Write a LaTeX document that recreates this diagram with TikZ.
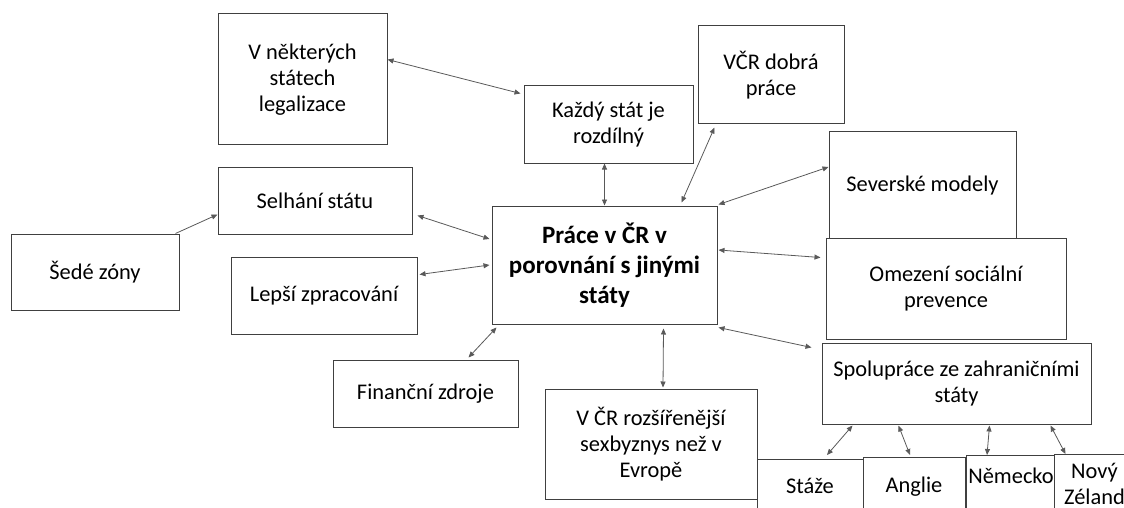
\documentclass[tikz,border=0pt]{standalone}
\usepackage{fontspec}
\setmainfont{Carlito}
\usetikzlibrary{arrows.meta}

\begin{document}
\begin{tikzpicture}[x=1pt, y=-1pt]

\tikzstyle{every node} = [rectangle, draw=black!75, line width=1pt, fill=white, align=center, inner sep=2pt, font=\fontsize{22.4}{26}\selectfont]
\tikzstyle{lowbox} = [anchor=north, inner ysep=0pt, text depth=60pt]
\tikzstyle{link} = [{Triangle[length=6pt,width=5pt]}-{Triangle[length=6pt,width=5pt]}, draw=black!65, line width=0.8pt]
\tikzstyle{onelink} = [-{Triangle[length=6pt,width=5pt]}, draw=black!65, line width=0.8pt]

\useasboundingbox (0,0) rectangle (1124,508);
\clip (0,0) rectangle (1124,508);

\node[minimum width=169pt, minimum height=131pt] (legal) at (302.5,79.5) {V některých\\státech\\legalizace};
\node[minimum width=169pt, minimum height=77pt] (kazdy) at (608.5,124.5) {Každý stát je\\rozdílný};
\node[minimum width=146pt, minimum height=98pt] (vcr) at (771,75) {VČR dobrá\\práce};
\node[minimum width=187pt, minimum height=108pt] (severske) at (922.5,186) {Severské modely};
\node[minimum width=240pt, minimum height=101pt] (omezeni) at (946,288.5) {Omezení sociální\\prevence};

\node[minimum width=194pt, minimum height=67pt] (selhani) at (315,200.5) {Selhání státu};
\node[minimum width=168pt, minimum height=76pt] (sede) at (95,272) {Šedé zóny};
\node[minimum width=186pt, minimum height=77pt] (lepsi) at (324,295.5) {Lepší zpracování};
\node[minimum width=185pt, minimum height=67pt] (financni) at (425.5,393.5) {Finanční zdroje};

\node[minimum width=225pt, minimum height=118pt, font=\fontsize{25}{30}\selectfont\bfseries] (main) at (604.5,265) {Práce v ČR v\\porovnání s jinými\\státy};

\node[minimum width=212pt, minimum height=110pt] (rozsir) at (651,444) {V ČR rozšířenější\\sexbyznys než v\\Evropě};
\node[minimum width=269pt, minimum height=81pt] (spoluprace) at (956.5,383.5) {Spolupráce ze zahraničními\\státy};

\node[lowbox, minimum width=106pt, text height=34pt] (staze) at (810,459) {Stáže};
\node[lowbox, minimum width=102pt, text height=35pt] (anglie) at (914,457) {Anglie};
\node[lowbox, minimum width=86pt, text height=28pt] (nemecko) at (1011,455) {Německo};
\node[minimum width=81pt, minimum height=58pt] (novy) at (1094.5,483.5) {Nový\\Zéland};

\draw[link] ([yshift=20pt]legal.east) -- ([xshift=-3pt,yshift=31pt]kazdy.west);
\draw[link] ([xshift=5pt,yshift=-15pt]selhani.east) -- ([xshift=-2pt,yshift=26pt]main.west);
\draw[onelink] ([xshift=-4pt]sede.north east) -- ([yshift=-14pt]selhani.west);
\draw[link] ([xshift=2pt,yshift=21pt]lepsi.east) -- ([xshift=-2pt]main.west);
\draw[link] ([xshift=5pt,yshift=-3pt]main.south west) -- ([xshift=43pt,yshift=2pt]financni.north);

\draw[link] (main.north |- kazdy.south) -- (main.north);
\draw[link] ([xshift=17pt,yshift=-3pt]vcr.south west) -- ([xshift=-36pt,yshift=3pt]main.north east);
\draw[link] ([yshift=19pt]severske.west) -- ([xshift=1pt,yshift=1pt]main.north east);
\draw[link] ([xshift=1pt,yshift=15pt]main.east) -- ([xshift=-5pt,yshift=31pt]omezeni.west);
\draw[link] ([xshift=1pt,yshift=-3pt]main.south east) -- ([xshift=-10pt,yshift=-5pt]spoluprace.north west);
\draw[link] ([xshift=59pt,yshift=-4pt]main.south) -- ([xshift=12pt,yshift=1pt]rozsir.north);

\draw[link] ([xshift=31pt,yshift=-1pt]spoluprace.south west) -- ([xshift=17pt,yshift=4pt]staze.north);
\draw[link] ([xshift=77pt,yshift=-1pt]spoluprace.south west) -- ([xshift=-4pt,yshift=2pt]anglie.north);
\draw[link] ([xshift=168pt,yshift=-1pt]spoluprace.south west) -- ([xshift=-24pt]nemecko.north);
\draw[link] ([xshift=229pt,yshift=-1pt]spoluprace.south west) -- ([xshift=12pt]novy.north west);

\end{tikzpicture}
\end{document}
